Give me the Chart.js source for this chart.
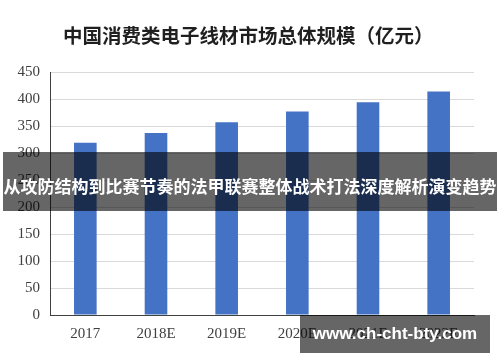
<!DOCTYPE html>
<html>
<head>
<meta charset="utf-8">
<script src="https://cdn.jsdelivr.net/npm/chart.js@4/dist/chart.umd.min.js"></script>
<style>
  html, body { margin: 0; padding: 0; background: #fff; }
  #wrap { position: relative; width: 500px; height: 362px; overflow: hidden; }
  #title {
    position: absolute; left: 63px; top: 20px; height: 26px; line-height: 26px;
    color: #1f1f1f; font: bold 19.5px "Noto Sans CJK SC", sans-serif; white-space: nowrap;
  }
  #banner {
    position: absolute; left: 3px; top: 152px; width: 494px; height: 59px;
    background: rgba(0, 0, 0, 0.6); color: #fff;
    font: bold 17px "Noto Sans CJK SC", sans-serif;
    line-height: 59px; text-align: center; white-space: nowrap; padding-top: 4px; box-sizing: border-box;
  }
  #mark {
    position: absolute; left: 300px; top: 315px; width: 190px; height: 38px;
    background: rgba(0, 0, 0, 0.6); color: #fff;
    font: bold 17px "Liberation Sans", Arial, sans-serif;
    line-height: 38px; text-align: center; white-space: nowrap;
  }
</style>
</head>
<body>
<div id="wrap">
  <canvas id="myChart" width="500" height="362"></canvas>
  <div id="title">中国消费类电子线材市场总体规模（亿元）</div>
  <div id="banner">从攻防结构到比赛节奏的法甲联赛整体战术打法深度解析演变趋势</div>
  <div id="mark">www.ch-cht-bty.com</div>
</div>
<script>
// 数据
const years = ['2017', '2018E', '2019E', '2020E', '2021E', '2022E'];
const marketSize = [319, 337, 357, 377, 394, 414];
const yTicks = [0, 50, 100, 150, 200, 250, 300, 350, 400, 450];

const tickFont = { family: '"Liberation Serif", "Times New Roman", serif', size: 15 };

const ctx = document.getElementById('myChart').getContext('2d');
const myChart = new Chart(ctx, {
    type: 'bar',
    data: {
        labels: years,
        datasets: [{
            label: '市场规模',
            data: marketSize,
            backgroundColor: '#4472c4',
            borderWidth: 0,
            barPercentage: 0.32,
            categoryPercentage: 1
        }]
    },
    options: {
        responsive: false,
        animation: false,
        layout: { padding: { left: 0, right: 26, top: 72, bottom: 9 } },
        plugins: {
            legend: { display: false },
            tooltip: { enabled: false },
            title: { display: false }
        },
        scales: {
            x: {
                grid: { display: false, drawTicks: false },
                border: { color: '#404040', width: 1 },
                ticks: { color: '#404040', font: tickFont, padding: 10 }
            },
            y: {
                min: 0,
                max: 450,
                afterBuildTicks: (scale) => { scale.ticks = yTicks.map(v => ({ value: v })); },
                afterFit: (scale) => { scale.width = 50; },
                grid: { color: '#d9d9d9', drawTicks: false },
                border: { color: '#404040', width: 1 },
                ticks: { color: '#404040', font: tickFont, padding: 10 }
            }
        }
    }
});
</script>
</body>
</html>
